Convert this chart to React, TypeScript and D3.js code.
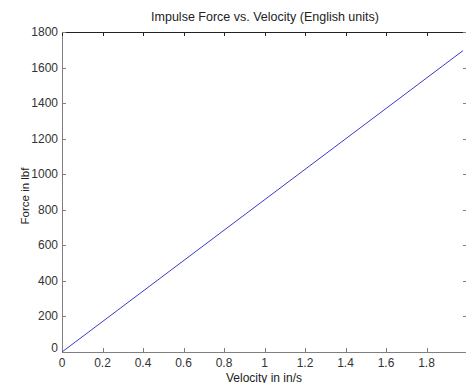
import { useEffect, useRef } from 'react';
import * as d3 from 'd3';

const velocity = [0, 1.98];
const force = [0, 1695];
const xTicks = [0, 0.2, 0.4, 0.6, 0.8, 1, 1.2, 1.4, 1.6, 1.8];
const yTicks = [0, 200, 400, 600, 800, 1000, 1200, 1400, 1600, 1800];

export default function App() {
  const svgRef = useRef<SVGSVGElement>(null);
  const width = 466;
  const height = 383;

  useEffect(() => {
    if (!svgRef.current) return;
    const svg = d3.select(svgRef.current);
    svg.selectAll('*').remove();

    const left = 62, right = 467, top = 32, bottom = 352;
    const font = 'Liberation Sans, Arial, Helvetica, sans-serif';
    const axisColor = '#7f7f7f';

    const x = d3.scaleLinear().domain([0, 2]).range([left, right]);
    const y = d3.scaleLinear().domain([0, 1800]).range([bottom, top]);

    svg.append('rect').attr('width', width).attr('height', height).attr('fill', '#fff');

    // box
    svg.append('line').attr('x1', left).attr('x2', right).attr('y1', top + 0.5).attr('y2', top + 0.5)
      .attr('stroke', '#222').attr('stroke-width', 1);
    svg.append('line').attr('x1', left).attr('x2', right).attr('y1', bottom + 0.5).attr('y2', bottom + 0.5)
      .attr('stroke', axisColor).attr('stroke-width', 1);
    svg.append('line').attr('x1', left + 0.5).attr('x2', left + 0.5).attr('y1', top).attr('y2', bottom + 1)
      .attr('stroke', axisColor).attr('stroke-width', 1);

    // ticks
    xTicks.forEach(t => {
      const px = Math.round(x(t)) + 0.5;
      svg.append('line').attr('x1', px).attr('x2', px).attr('y1', bottom).attr('y2', bottom - 4)
        .attr('stroke', axisColor);
      svg.append('line').attr('x1', px).attr('x2', px).attr('y1', top).attr('y2', top + 4)
        .attr('stroke', '#222');
      svg.append('text').attr('x', x(t)).attr('y', bottom + 15).attr('text-anchor', 'middle')
        .attr('font-family', font).attr('font-size', 12).attr('fill', '#333').text(String(t));
    });
    yTicks.forEach(t => {
      const py = Math.round(y(t)) + 0.5;
      svg.append('line').attr('x1', left).attr('x2', left + 4).attr('y1', py).attr('y2', py)
        .attr('stroke', axisColor);
      svg.append('line').attr('x1', right - 4).attr('x2', right).attr('y1', py).attr('y2', py)
        .attr('stroke', axisColor);
      svg.append('text').attr('x', left - 4).attr('y', y(t) + (t === 0 ? 0 : 4)).attr('text-anchor', 'end')
        .attr('font-family', font).attr('font-size', 12).attr('fill', '#333').text(String(t));
    });

    // data line
    const pts = velocity.map((v, i) => [v, force[i]] as [number, number]);
    const line = d3.line<[number, number]>().x(d => x(d[0])).y(d => y(d[1]));
    svg.append('path').datum(pts).attr('d', line).attr('fill', 'none')
      .attr('stroke', '#3a3acc').attr('stroke-width', 1);

    // labels
    svg.append('text').attr('x', 265).attr('y', 21).attr('text-anchor', 'middle')
      .attr('font-family', font).attr('font-size', 12.5).attr('fill', '#222')
      .text('Impulse Force vs. Velocity (English units)');
    svg.append('text').attr('x', 264).attr('y', 382).attr('text-anchor', 'middle')
      .attr('font-family', font).attr('font-size', 12).attr('fill', '#222')
      .text('Velocity in in/s');
    svg.append('text').attr('transform', `translate(29,${(top + bottom) / 2 + 4}) rotate(-90)`)
      .attr('text-anchor', 'middle')
      .attr('font-family', font).attr('font-size', 11.5).attr('fill', '#222')
      .text('Force in lbf');
  }, []);

  return (
    <svg ref={svgRef} width={width} height={height}
      style={{ position: 'absolute', left: 0, top: 0, display: 'block' }} />
  );
}
